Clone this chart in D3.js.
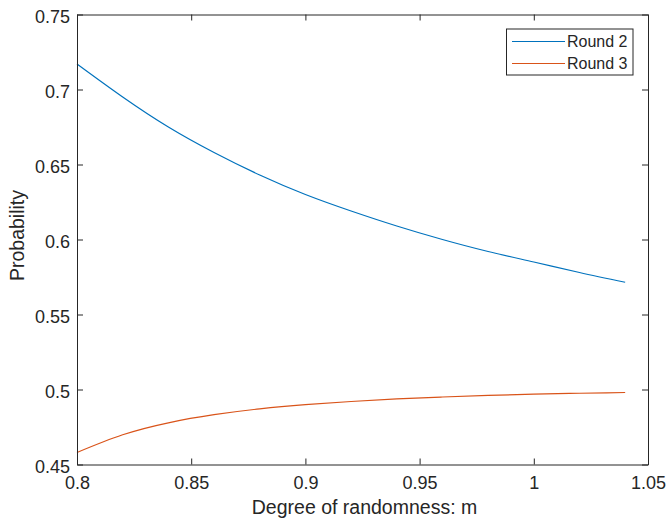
<!DOCTYPE html>
<html><head><meta charset="utf-8">
<script src="https://cdn.jsdelivr.net/npm/d3@7"></script>
<style>body{margin:0;background:#fff}svg{display:block}text{font-family:"Liberation Sans",Arial,sans-serif;fill:#262626}</style>
</head><body>
<svg id="c" width="669" height="521"></svg>
<script>
const mValues = [0.80,0.82,0.84,0.86,0.88,0.90,0.92,0.94,0.96,0.98,1.00,1.02,1.04];
const round2 = [0.717,0.695,0.675,0.658,0.643,0.630,0.619,0.609,0.600,0.592,0.585,0.578,0.5715];
const round3 = [0.458,0.4698,0.4778,0.4832,0.4871,0.4899,0.4920,0.4937,0.4950,0.4961,0.4969,0.4975,0.4980];
const seriesNames = ["Round 2","Round 3"];
const xTicks = [0.8,0.85,0.9,0.95,1,1.05];
const yTicks = [0.45,0.5,0.55,0.6,0.65,0.7,0.75];
const colors = ["#0072BD","#D95319"];

const svg = d3.select("#c");
const L=77,R=648,T=14.5,B=464.5;
const x = d3.scaleLinear().domain([0.8,1.05]).range([L,R]);
const y = d3.scaleLinear().domain([0.45,0.75]).range([B,T]);
const axisColor="#262626", tickFs=18;

const series=[round2,round3];
const line = d3.line().x((d,i)=>x(mValues[i])).y(d=>y(d)).curve(d3.curveNatural);
series.forEach((s,k)=>{
  svg.append("path").datum(s).attr("d",line).attr("fill","none").attr("stroke",colors[k]).attr("stroke-width",1.2);
});

// axes
const fmt = d=>String(+d.toFixed(2));
const gB = svg.append("g").attr("transform",`translate(0,${B})`)
  .call(d3.axisBottom(x).tickValues(xTicks).tickFormat(fmt).tickSizeInner(-6).tickSizeOuter(0).tickPadding(12));
const gT = svg.append("g").attr("transform",`translate(0,${T})`)
  .call(d3.axisTop(x).tickValues(xTicks).tickFormat("").tickSizeInner(-6).tickSizeOuter(0));
const gL = svg.append("g").attr("transform",`translate(${L},0)`)
  .call(d3.axisLeft(y).tickValues(yTicks).tickFormat(fmt).tickSizeInner(-6).tickSizeOuter(0).tickPadding(7));
const gR = svg.append("g").attr("transform",`translate(${R},0)`)
  .call(d3.axisRight(y).tickValues(yTicks).tickFormat("").tickSizeInner(-6).tickSizeOuter(0));
[gB,gT,gL,gR].forEach(g=>{
  g.select(".domain").attr("stroke",axisColor).attr("stroke-width",1);
  g.selectAll(".tick line").attr("stroke",axisColor).attr("stroke-width",1);
  g.selectAll("text").attr("font-size",tickFs).attr("fill",axisColor).attr("font-family","Liberation Sans, Arial, sans-serif");
});
gL.selectAll(".tick text").attr("dy","0.45em");

// labels
svg.append("text").attr("x",(L+R)/2+2).attr("y",514).attr("text-anchor","middle").attr("font-size",19.5).text("Degree of randomness: m");
svg.append("text").attr("transform",`translate(24,${(T+B)/2-4}) rotate(-90)`).attr("text-anchor","middle").attr("font-size",19.5).text("Probability");

// legend
const lg = svg.append("g");
lg.append("rect").attr("x",506.5).attr("y",29).attr("width",126.5).attr("height",46).attr("fill","#fff").attr("stroke",axisColor).attr("stroke-width",1);
seriesNames.forEach((n,k)=>{
  const yy = 41.5 + k*22;
  lg.append("line").attr("x1",512).attr("x2",565).attr("y1",yy).attr("y2",yy).attr("stroke",colors[k]).attr("stroke-width",1.2);
  lg.append("text").attr("x",567).attr("y",yy).attr("dy","0.36em").attr("font-size",16).text(n);
});
</script>
</body></html>
